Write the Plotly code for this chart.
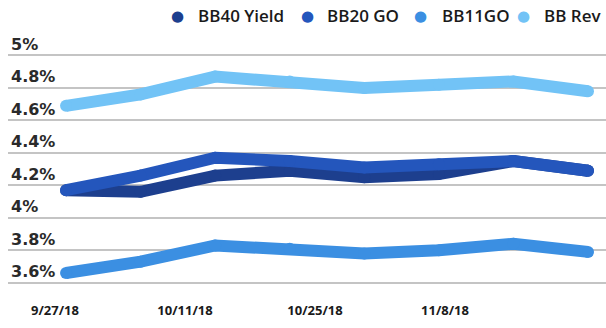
import pandas as pd
import plotly.graph_objects as go

dates = pd.date_range("2018-09-27", periods=8, freq="7D")
series_names = ["BB40 Yield", "BB20 GO", "BB11GO", "BB Rev"]
bb40_yield = [4.17, 4.16, 4.26, 4.29, 4.25, 4.27, 4.35, 4.29]
bb20_go = [4.17, 4.26, 4.37, 4.35, 4.31, 4.33, 4.35, 4.29]
bb11go = [3.66, 3.73, 3.83, 3.81, 3.78, 3.80, 3.84, 3.79]
bb_rev = [4.69, 4.76, 4.87, 4.84, 4.80, 4.82, 4.84, 4.78]
tick_dates = ["2018-09-27", "2018-10-11", "2018-10-25", "2018-11-08"]
tick_labels = ["9/27/18", "10/11/18", "10/25/18", "11/8/18"]
y_ticks = [3.6, 3.8, 4.0, 4.2, 4.4, 4.6, 4.8, 5.0]
y_labels = ["3.6%", "3.8%", "4%", "4.2%", "4.4%", "4.6%", "4.8%", "5%"]

colors = ["#1d3f8e", "#2456bc", "#3b8fe2", "#72c3f6"]
values = [bb40_yield, bb20_go, bb11go, bb_rev]
draw_order = [3, 2, 0, 1]

W, H = 606, 328
ML, MR, MT, MB = 8, 0, 35.5, 42.25
PW, PH = W - ML - MR, H - MT - MB

t0 = pd.Timestamp(dates[0])
t_end = pd.Timestamp(dates[-1])
main_range = [t0 - pd.Timedelta(days=5.45), t_end + pd.Timedelta(days=1.69)]
lab_range = [t0 - pd.Timedelta(days=5.06), t0 + pd.Timedelta(days=59.34)]

fig = go.Figure()

for i in draw_order:
    fig.add_trace(go.Scatter(
        x=dates, y=values[i], mode="lines+markers", name=series_names[i],
        line=dict(color=colors[i], width=12),
        marker=dict(color=colors[i], size=12, line=dict(width=0)),
        showlegend=False,
    ))

fig.add_trace(go.Scatter(x=[None], y=[None], xaxis="x2", showlegend=False))

# legend drawn manually (dot + label) as text annotations
legend_marker_px = [177, 307, 420, 523]
legend_text_px = [196, 325, 440, 542]
legend_y_px = 15
ly = (H - MB - legend_y_px) / PH
for i in range(4):
    fig.add_annotation(xref="paper", yref="paper", x=(legend_marker_px[i] - ML) / PW, y=ly,
                       xanchor="center", yanchor="middle", showarrow=False, text="●",
                       font=dict(family="DejaVu Sans", size=15, color=colors[i]))
    fig.add_annotation(xref="paper", yref="paper", x=(legend_text_px[i] - ML) / PW, y=ly,
                       xanchor="left", yanchor="middle", showarrow=False, text=series_names[i],
                       font=dict(family="Open Sans", size=17, color="#1a1a1a", weight=600))

tick_font = dict(family="DejaVu Sans", size=16, color="#2a2a2a", weight=700)

fig.update_layout(
    width=W, height=H,
    margin=dict(l=ML, r=MR, t=MT, b=MB, autoexpand=False),
    paper_bgcolor="white", plot_bgcolor="white",
    showlegend=False,
    xaxis=dict(type="date", range=main_range, showticklabels=False, showgrid=False,
               zeroline=False, showline=False, ticks=""),
    xaxis2=dict(type="date", range=lab_range, overlaying="x", side="bottom", anchor="y",
                tickvals=tick_dates, ticktext=tick_labels, showgrid=False, zeroline=False,
                showline=False, ticks="",
                tickfont=dict(family="Open Sans", size=13, color="#1a1a1a", weight=700),
                ticklabelstandoff=15),
    yaxis=dict(range=[3.58, 5.12], tickmode="array", tickvals=y_ticks, ticktext=y_labels,
               ticklabelposition="inside top", ticklabeloverflow="allow", tickfont=tick_font,
               showgrid=True, gridcolor="#c4c4c4", gridwidth=2, zeroline=False,
               showline=False, ticks=""),
)

fig.write_html("out.html")
